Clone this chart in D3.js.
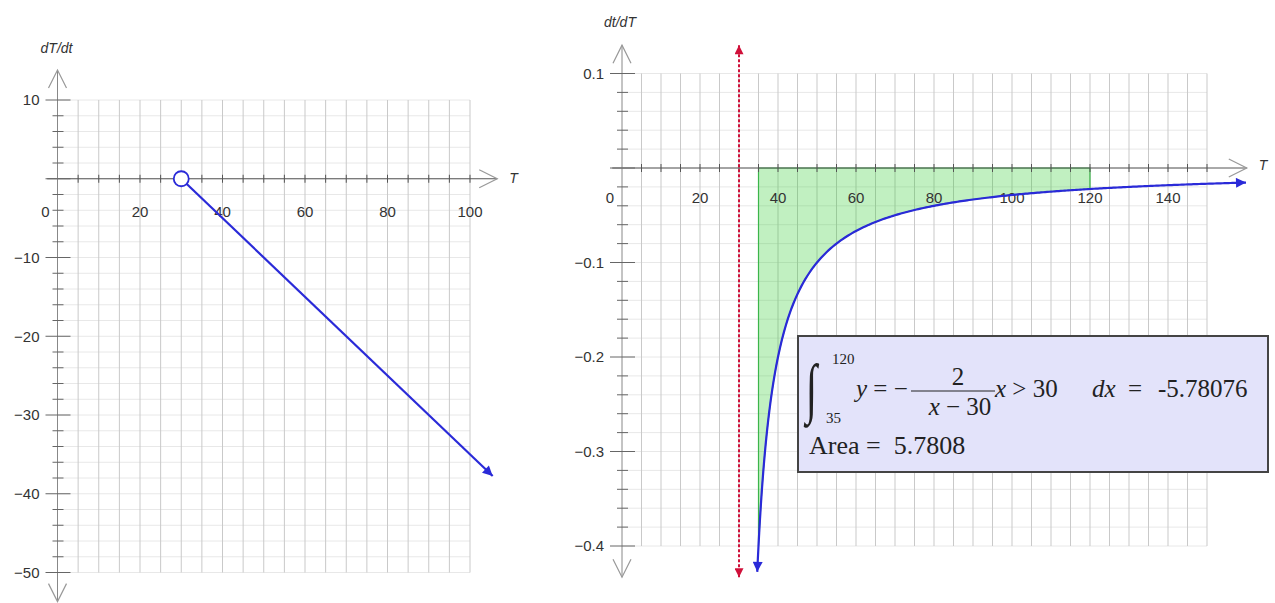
<!DOCTYPE html>
<html>
<head>
<meta charset="utf-8">
<script src="https://cdn.jsdelivr.net/npm/d3@7"></script>
<style>
  html, body { margin: 0; padding: 0; background: #fff; }
  svg { display: block; }
  .tick-label { font-family: "Liberation Sans", Arial, sans-serif; font-size: 15px; fill: #333; }
  .axis-title { font-family: "Liberation Sans", Arial, sans-serif; font-size: 14px; font-style: italic; fill: #333; }
  .math { font-family: "Liberation Serif", "Times New Roman", serif; fill: #222; }
</style>
</head>
<body>
<svg id="chart" width="1275" height="603"></svg>
<script>
// ---- Left panel: dT/dt against T ----
const leftXLabels = [20, 40, 60, 80, 100];
const leftYLabels = [10, -10, -20, -30, -40, -50];
const leftXDomain = [0, 100];
const leftYDomain = [-50, 10];
const leftAxisX = [-2.5, 106.6];   // drawn extent of the T axis
const leftAxisY = [-53.7, 13.8];   // drawn extent of the dT/dt axis
const rateT = [30, 105.5];         // dT/dt = -(T - 30)/2, open at T = 30
const rateV = [0, -37.75];

// ---- Right panel: dt/dT against T ----
const rightXLabels = [20, 40, 60, 80, 100, 120, 140];
const rightYLabels = [0.1, -0.1, -0.2, -0.3, -0.4];
const rightXDomain = [0, 140];
const rightYDomain = [-0.4, 0.1];
const rightAxisX = [-2.5, 160.2];
const rightAxisY = [-0.433, 0.13];
const asymptoteT = 30;
const curveRange = [34.68, 160];   // y = -2/(x - 30) for x > 30
const areaRange = [35, 120];
const integralText = ["120", "35", "-5.78076", "5.7808"];

const svg = d3.select("#chart");
const inv = v => -2 / (v - 30);

// arrowhead markers
const defs = svg.append("defs");
function marker(id, color, w, h) {
  defs.append("marker")
    .attr("id", id)
    .attr("viewBox", "0 0 10 10")
    .attr("refX", 10).attr("refY", 5)
    .attr("markerUnits", "userSpaceOnUse")
    .attr("markerWidth", w).attr("markerHeight", h)
    .attr("orient", "auto-start-reverse")
    .append("path").attr("d", "M0,0 L10,5 L0,10 Z").attr("fill", color);
}
marker("arrowBlue", "#2a2ad8", 13, 10);
marker("arrowRed", "#d0103a", 11, 9);

function chevron(g, x, y, dir, color) {
  // open arrow drawn at (x, y), pointing in dir
  const a = 9, l = 18;
  let d;
  if (dir === "up") d = `M${x - a},${y + l} L${x},${y} L${x + a},${y + l}`;
  if (dir === "down") d = `M${x - a},${y - l} L${x},${y} L${x + a},${y - l}`;
  if (dir === "right") d = `M${x - l},${y - a} L${x},${y} L${x - l},${y + a}`;
  g.append("path").attr("d", d).attr("fill", "none").attr("stroke", color).attr("stroke-width", 1.2);
}

function panel(opts) {
  const { x, y, xGridStep, yGridStep, xGridMax } = opts;
  const g = svg.append("g");
  const [y0, y1] = opts.yDomain;

  // grid
  const nH = Math.round((y1 - y0) / yGridStep);
  const hLines = d3.range(0, nH + 1).map(i => y0 + i * yGridStep);
  g.append("g").selectAll("line").data(hLines).join("line")
    .attr("x1", x(0)).attr("x2", x(xGridMax))
    .attr("y1", d => y(d)).attr("y2", d => y(d))
    .attr("stroke", "#e8e8e8").attr("stroke-width", 1);
  const vLines = d3.range(xGridStep, xGridMax + 1e-9, xGridStep);
  g.append("g").selectAll("line").data(vLines).join("line")
    .attr("x1", d => x(d)).attr("x2", d => x(d))
    .attr("y1", y(y1)).attr("y2", y(y0))
    .attr("stroke", "#c9c9c9").attr("stroke-width", 1);
  return g;
}

function axes(opts) {
  const { x, y, axisX, axisY, xTickStep, yGridStep, yMajorStep, yDomain, xLabels, yLabels, fmtY, labelDy } = opts;
  const ax = svg.append("g");
  // T axis
  ax.append("line").attr("x1", x(axisX[0])).attr("x2", x(axisX[1]))
    .attr("y1", y(0)).attr("y2", y(0)).attr("stroke", "#555").attr("stroke-width", 1);
  chevron(ax, x(axisX[1]), y(0), "right", "#999");
  const xt = d3.range(xTickStep, opts.xGridMax + 1e-9, xTickStep);
  ax.append("g").selectAll("line").data(xt).join("line")
    .attr("x1", d => x(d)).attr("x2", d => x(d))
    .attr("y1", y(0) - 4).attr("y2", y(0) + 4)
    .attr("stroke", "#555");
  // vertical axis
  ax.append("line").attr("x1", x(0)).attr("x2", x(0))
    .attr("y1", y(axisY[0])).attr("y2", y(axisY[1])).attr("stroke", "#888").attr("stroke-width", 1);
  chevron(ax, x(0), y(axisY[1]), "up", "#999");
  chevron(ax, x(0), y(axisY[0]), "down", "#999");
  const n = Math.round((yDomain[1] - yDomain[0]) / yGridStep);
  const yt = d3.range(0, n + 1).map(i => yDomain[0] + i * yGridStep);
  const isMajor = d => Math.abs(d / yMajorStep - Math.round(d / yMajorStep)) < 1e-6;
  ax.append("g").selectAll("line").data(yt).join("line")
    .attr("x1", d => x(0) - (isMajor(d) ? 12 : 5))
    .attr("x2", d => x(0) + (isMajor(d) ? 13 : 6))
    .attr("y1", d => y(d)).attr("y2", d => y(d))
    .attr("stroke", "#666");
  // labels
  ax.append("g").selectAll("text").data(yLabels).join("text")
    .attr("class", "tick-label").attr("text-anchor", "end")
    .attr("x", x(0) - 18).attr("y", d => y(d)).attr("dy", "0.35em")
    .text(fmtY);
  ax.append("g").selectAll("text").data(xLabels).join("text")
    .attr("class", "tick-label").attr("text-anchor", "middle")
    .attr("x", d => x(d)).attr("y", y(0) + labelDy)
    .text(d => d);
  ax.append("text").attr("class", "tick-label").attr("text-anchor", "middle")
    .attr("x", x(0) - 12).attr("y", y(0) + labelDy).text("0");
  return ax;
}

const fmtMinus = d => d < 0 ? "\u2212" + Math.abs(d) : d;

// ================= Left panel =================
const xL = d3.scaleLinear().domain(leftXDomain).range([57.5, 470]);
const yL = d3.scaleLinear().domain(leftYDomain).range([572.5, 100]);
const optsL = {
  x: xL, y: yL, xGridStep: 5, yGridStep: 2, xGridMax: 100, yMajorStep: 10,
  yDomain: leftYDomain, axisX: leftAxisX, axisY: leftAxisY, xTickStep: 5,
  xLabels: leftXLabels, yLabels: leftYLabels, fmtY: fmtMinus, labelDy: 38
};
panel(optsL);
axes(optsL);
svg.append("text").attr("class", "axis-title").attr("text-anchor", "middle")
  .attr("x", xL(0) - 1).attr("y", 53).text("dT/dt");
svg.append("text").attr("class", "axis-title").attr("text-anchor", "start")
  .attr("x", xL(leftAxisX[1]) + 12).attr("y", yL(0) + 4).text("T");

const rateLine = d3.line().x(d => xL(d[0])).y(d => yL(d[1]));
svg.append("path").datum(d3.zip(rateT, rateV))
  .attr("d", rateLine).attr("fill", "none")
  .attr("stroke", "#2a2ad8").attr("stroke-width", 2.2)
  .attr("marker-end", "url(#arrowBlue)");
svg.append("circle").attr("cx", xL(rateT[0])).attr("cy", yL(rateV[0])).attr("r", 7.5)
  .attr("fill", "#fff").attr("stroke", "#2a2ad8").attr("stroke-width", 1.8);

// ================= Right panel =================
const xR = d3.scaleLinear().domain(rightXDomain).range([622, 1168]);
const yR = d3.scaleLinear().domain(rightYDomain).range([546, 73.5]);
const optsR = {
  x: xR, y: yR, xGridStep: 5, yGridStep: 0.02, xGridMax: 150, yMajorStep: 0.1,
  yDomain: rightYDomain, axisX: rightAxisX, axisY: rightAxisY, xTickStep: 5,
  xLabels: rightXLabels, yLabels: rightYLabels, fmtY: fmtMinus, labelDy: 35
};
panel(optsR);

// shaded region between the curve and the T axis
const areaXs = d3.range(areaRange[0], areaRange[1] + 1e-9, 0.25);
const area = d3.area().x(d => xR(d)).y0(yR(0)).y1(d => yR(inv(d)));
svg.append("path").datum(areaXs).attr("d", area)
  .attr("fill", "#33cc33").attr("fill-opacity", 0.3)
  .attr("stroke", "#3bb54a").attr("stroke-width", 1.2);

axes(optsR);
svg.append("text").attr("class", "axis-title").attr("text-anchor", "middle")
  .attr("x", xR(0) - 2).attr("y", 27).text("dt/dT");
svg.append("text").attr("class", "axis-title").attr("text-anchor", "start")
  .attr("x", xR(rightAxisX[1]) + 12).attr("y", yR(0) + 2).text("T");

// vertical asymptote
svg.append("path").datum(rightAxisY.map(v => [asymptoteT, v]))
  .attr("d", d3.line().x(d => xR(d[0])).y(d => yR(d[1])))
  .attr("fill", "none").attr("stroke", "#d0103a").attr("stroke-width", 2)
  .attr("stroke-dasharray", "3,2")
  .attr("marker-start", "url(#arrowRed)").attr("marker-end", "url(#arrowRed)");

// curve y = -2/(x - 30)
const cx = d3.range(curveRange[0], 40, 0.05).concat(d3.range(40, curveRange[1] + 1e-9, 0.5));
svg.append("path").datum(cx)
  .attr("d", d3.line().x(d => xR(d)).y(d => yR(inv(d))))
  .attr("fill", "none").attr("stroke", "#2a2ad8").attr("stroke-width", 2.2)
  .attr("marker-start", "url(#arrowBlue)").attr("marker-end", "url(#arrowBlue)");

// integral box
const box = svg.append("g");
box.append("rect").attr("x", 798).attr("y", 336).attr("width", 470).attr("height", 136)
  .attr("fill", "#e3e3fa").attr("stroke", "#444").attr("stroke-width", 2);
box.append("text").attr("class", "math")
  .attr("transform", "translate(806,410) scale(0.62,1)")
  .style("font-size", "66px").text("\u222B");
box.append("text").attr("class", "math").attr("x", 832).attr("y", 364)
  .style("font-size", "15px").text(integralText[0]);
box.append("text").attr("class", "math").attr("x", 826).attr("y", 423)
  .style("font-size", "15px").text(integralText[1]);
const main = box.append("text").attr("class", "math").attr("x", 856).attr("y", 397)
  .style("font-size", "25px");
main.append("tspan").style("font-style", "italic").text("y");
main.append("tspan").text(" = \u2212");
box.append("text").attr("class", "math").attr("x", 958).attr("y", 385)
  .attr("text-anchor", "middle").style("font-size", "25px").text("2");
box.append("line").attr("x1", 911).attr("x2", 995).attr("y1", 391).attr("y2", 391)
  .attr("stroke", "#222").attr("stroke-width", 1.2);
const den = box.append("text").attr("class", "math").attr("x", 960).attr("y", 415)
  .attr("text-anchor", "middle").style("font-size", "25px");
den.append("tspan").style("font-style", "italic").text("x");
den.append("tspan").text(" \u2212 30");
const cond = box.append("text").attr("class", "math").attr("x", 995).attr("y", 397)
  .style("font-size", "25px");
cond.append("tspan").style("font-style", "italic").text("x");
cond.append("tspan").text(" > 30");
const dx = box.append("text").attr("class", "math").attr("x", 1092).attr("y", 397)
  .style("font-size", "25px");
dx.append("tspan").style("font-style", "italic").text("dx");
dx.append("tspan").attr("x", 1128).text("=");
dx.append("tspan").attr("x", 1158).text(integralText[2]);
box.append("text").attr("class", "math").attr("x", 809).attr("y", 454)
  .style("font-size", "26px").attr("xml:space", "preserve")
  .text("Area =\u00A0 " + integralText[3]);
</script>
</body>
</html>
